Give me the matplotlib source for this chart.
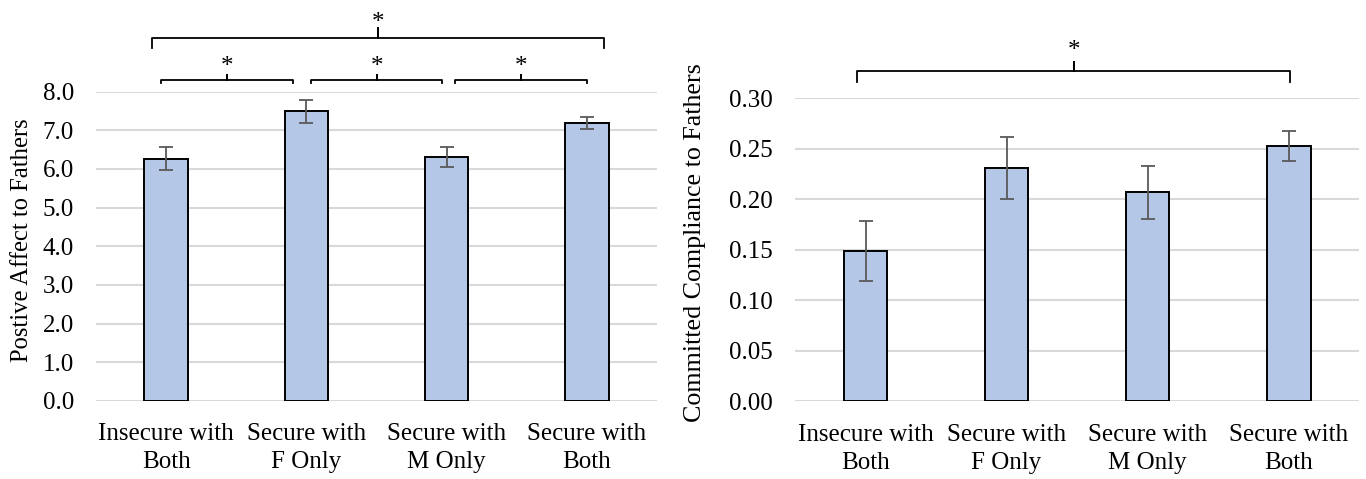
import numpy as np
import matplotlib.pyplot as plt

plt.rcParams['font.family'] = ['Liberation Serif', 'DejaVu Serif']

groups = ['Insecure with\nBoth', 'Secure with\nF Only', 'Secure with\nM Only', 'Secure with\nBoth']

# positive affect to fathers
affect_mean = [6.27, 7.49, 6.32, 7.19]
affect_err = [0.29, 0.30, 0.26, 0.15]

# committed compliance to fathers
comply_mean = [0.149, 0.231, 0.207, 0.253]
comply_err = [0.030, 0.031, 0.026, 0.015]

bar_color = '#B4C7E7'
grid_color = '#D9D9D9'
err_color = '#595959'


def draw_bars(ax, means, errs, ticks, fmt, ylabel, label_size):
    x = np.arange(len(means))
    ax.set_axisbelow(True)
    ax.yaxis.grid(True, color=grid_color, linewidth=1.5)
    ax.bar(x, means, width=0.31, color=bar_color, edgecolor='black', linewidth=1.4, zorder=3)
    ax.errorbar(x, means, yerr=errs, fmt='none', ecolor=err_color, elinewidth=1.3,
                capsize=5, capthick=1.3, zorder=4)
    ax.set_xlim(-0.5, len(means) - 0.5)
    ax.set_ylim(ticks[0], ticks[-1])
    ax.set_yticks(ticks)
    ax.set_yticklabels([fmt.format(t) for t in ticks])
    ax.set_xticks(x)
    ax.set_xticklabels(groups, linespacing=1.35)
    ax.tick_params(axis='both', length=0, labelsize=18)
    ax.tick_params(axis='y', pad=16)
    ax.tick_params(axis='x', pad=16)
    for s in ax.spines.values():
        s.set_visible(False)
    ax.set_ylabel(ylabel, fontsize=label_size)


def bracket(ax, x0, x1, y, drop, rise, star_y):
    xm = (x0 + x1) / 2
    ax.plot([x0, x0, xm, xm, xm, x1, x1], [y - drop, y, y, y + rise, y, y, y - drop],
            color='black', linewidth=1.3, clip_on=False)
    ax.text(xm, star_y, '*', ha='center', va='center', fontsize=18, clip_on=False)


fig = plt.figure(figsize=(13.66, 4.79), dpi=100)

ax1 = fig.add_axes([0.0703, 0.163, 0.4107, 0.6456])
draw_bars(ax1, affect_mean, affect_err, np.arange(0, 8.01, 1.0), '{:.1f}',
          'Postive Affect to Fathers', 17.7)
ax1.yaxis.set_label_coords(-0.113, 0.52)
bracket(ax1, -0.10, 3.12, 9.39, 0.26, 0.26, 9.77)
bracket(ax1, -0.04, 0.905, 8.31, 0.09, 0.13, 8.64)
bracket(ax1, 1.03, 1.97, 8.31, 0.09, 0.13, 8.64)
bracket(ax1, 2.06, 3.00, 8.31, 0.09, 0.13, 8.64)

ax2 = fig.add_axes([0.582, 0.162, 0.413, 0.6328])
draw_bars(ax2, comply_mean, comply_err, np.arange(0, 0.301, 0.05), '{:.2f}',
          'Committed Compliance to Fathers', 18.7)
ax2.yaxis.set_label_coords(-0.157, 0.525)
bracket(ax2, -0.06, 3.01, 0.327, 0.011, 0.009, 0.347)

fig.savefig('out.png', dpi=100)
